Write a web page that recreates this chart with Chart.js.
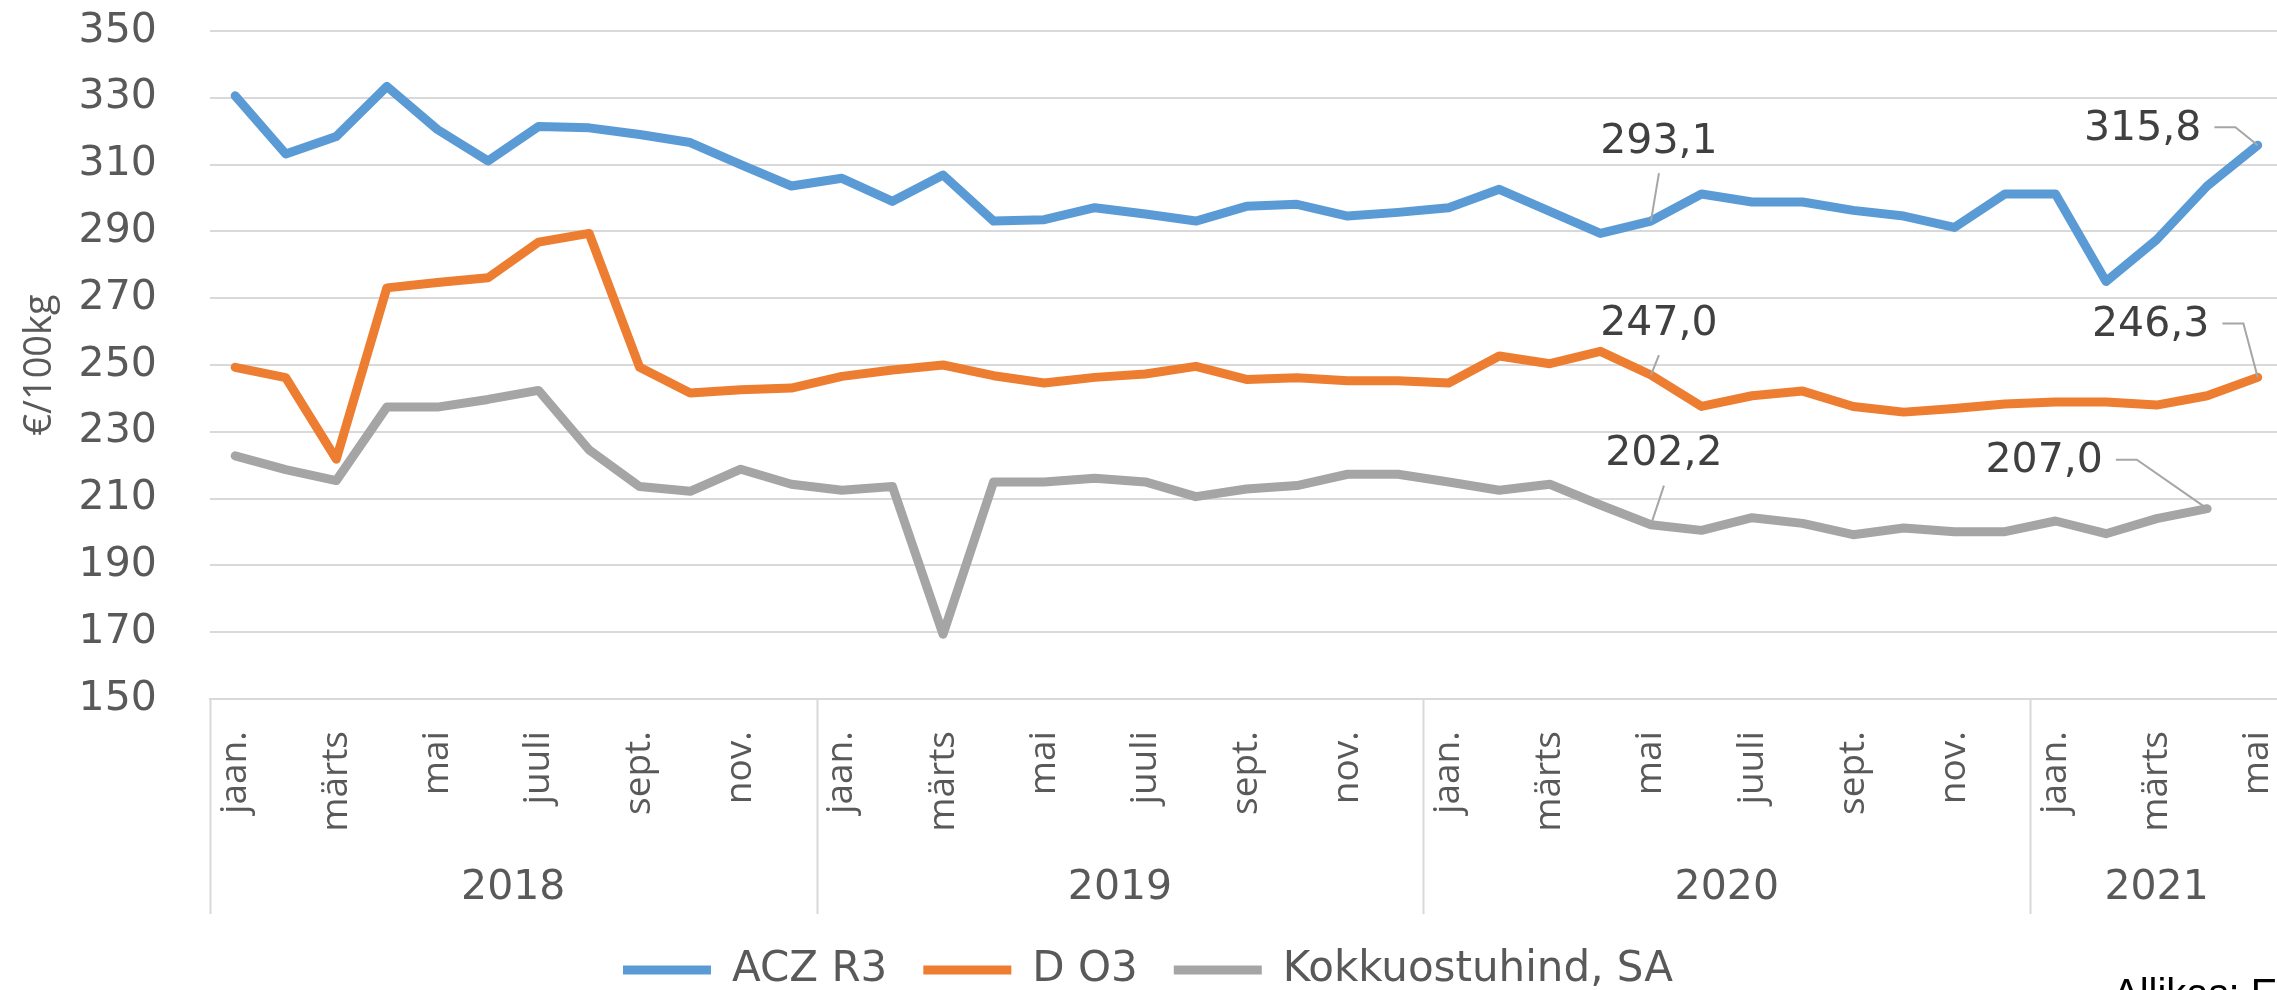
<!DOCTYPE html>
<html lang="et">
<head>
<meta charset="utf-8">
<title>Rümpade hinnad</title>
<script src="https://cdn.jsdelivr.net/npm/chart.js@4.4.1/dist/chart.umd.min.js"></script>
<style>
  html, body { margin: 0; padding: 0; background: #fff; overflow: hidden; }
  .wrap { position: relative; width: 2300px; height: 990px; }
  .allikas { position: absolute; left: 2113px; top: 973px; font: 40px "Liberation Sans", Arial, sans-serif; line-height: 1; color: #000; white-space: nowrap; }
</style>
</head>
<body>
<div class="wrap">
  <canvas id="chartHinnad"></canvas>
  <div class="allikas">Allikas: EK</div>
</div>
<script>
// kuud ja aastad (x-telg)
const kuud = ['jaan.', 'veebr.', 'märts', 'apr.', 'mai', 'juuni', 'juuli', 'aug.', 'sept.', 'okt.', 'nov.', 'dets.'];
const aastad = ['2018', '2019', '2020', '2021'];
const kuudAastas = [12, 12, 12, 5];

// hinnad, €/100kg
const aczR3 = [330.6, 313.2, 318.4, 333.4, 320.5, 311.1, 321.4, 321.0, 319.0, 316.6, 310.0, 303.6,
               305.9, 299.0, 306.9, 293.1, 293.5, 297.1, 295.2, 293.1, 297.5, 298.1, 294.6, 295.7,
               297.1, 302.6, 296.0, 289.4, 293.1, 301.2, 298.8, 298.8, 296.3, 294.6, 291.2, 301.2,
               301.2, 275.0, 287.5, 303.6, 315.8];
const dO3 = [249.3, 246.2, 221.8, 273.1, 274.7, 276.1, 286.8, 289.4, 249.3, 241.6, 242.6, 243.1,
             246.6, 248.5, 250.0, 246.8, 244.6, 246.3, 247.3, 249.6, 245.7, 246.2, 245.3, 245.3,
             244.6, 252.7, 250.4, 254.1, 247.0, 237.6, 240.8, 242.2, 237.6, 235.9, 237.0, 238.3,
             238.9, 238.9, 238.0, 240.8, 246.3];
const kokkuostuhind = [222.8, 218.7, 215.4, 237.4, 237.4, 239.7, 242.4, 224.6, 213.6, 212.2, 218.8, 214.3,
                       212.5, 213.6, 169.4, 215.0, 215.0, 216.1, 215.0, 210.6, 212.9, 213.9, 217.3, 217.3,
                       215.0, 212.5, 214.3, 208.1, 202.2, 200.5, 204.3, 202.6, 199.2, 201.2, 200.1, 200.1,
                       203.3, 199.5, 204.0, 207.0, null];

const yMin = 150, yMax = 350, ySamm = 20;

const kategooriad = aastad.flatMap((a, k) => kuud.slice(0, kuudAastas[k]));

// aasta sildi asukoht = oma kuude keskel
const aastaKeskkohad = [];
const aastaAlgused = [];
let algus = 0;
kuudAastas.forEach(n => {
    aastaAlgused.push(algus);
    aastaKeskkohad.push(algus + (n - 1) / 2);
    algus += n;
});

const HALL = '#595959';
const VORE = '#d9d9d9';

// väärtuste sildid koos juhtjoonega
const vaartuseSildid = {
    id: 'vaartuseSildid',
    afterDatasetsDraw(chart, args, opts) {
        const ctx = chart.ctx;
        ctx.save();
        ctx.font = '41px "DejaVu Sans"';
        ctx.textAlign = 'center';
        ctx.textBaseline = 'middle';
        opts.sildid.forEach(s => {
            const p = chart.getDatasetMeta(s.ds).data[s.i];
            const v = chart.data.datasets[s.ds].data[s.i];
            const tekst = v.toFixed(1).replace('.', ',');
            const tx = p.x + s.dx, ty = p.y + s.dy;
            ctx.strokeStyle = '#a6a6a6';
            ctx.lineWidth = 2;
            ctx.beginPath();
            if (s.joon === 'otse') {
                ctx.moveTo(tx, ty + 31);
                ctx.lineTo(p.x, p.y);
            } else {
                const w = ctx.measureText(tekst).width;
                ctx.moveTo(tx + w / 2 + 13, ty - 2);
                ctx.lineTo(tx + w / 2 + 34, ty - 2);
                ctx.lineTo(p.x, p.y);
            }
            ctx.stroke();
            ctx.fillStyle = '#404040';
            ctx.fillText(tekst, tx, ty);
        });
        ctx.restore();
    }
};

// aastate vahelised püstjooned x-telje all
const aastaEraldajad = {
    id: 'aastaEraldajad',
    afterDraw(chart, args, opts) {
        const sk = chart.scales.aasta;
        const ctx = chart.ctx;
        const y0 = chart.chartArea.bottom;
        ctx.save();
        ctx.strokeStyle = VORE;
        ctx.lineWidth = 2;
        aastaAlgused.concat([kategooriad.length]).forEach(a => {
            const x = Math.round(sk.getPixelForValue(a - 0.5)) + 0.5;
            ctx.beginPath();
            ctx.moveTo(x, y0);
            ctx.lineTo(x, y0 + opts.pikkus);
            ctx.stroke();
        });
        ctx.restore();
    }
};

const joon = (label, data, color) => ({
    label, data,
    borderColor: color,
    backgroundColor: color,
    borderWidth: 9,
    borderJoinStyle: 'round',
    borderCapStyle: 'round',
    pointRadius: 0,
    tension: 0,
});

new Chart(document.getElementById('chartHinnad'), {
    type: 'line',
    data: {
        labels: kategooriad,
        datasets: [
            joon('ACZ R3', aczR3, '#5b9bd5'),
            joon('D O3', dO3, '#ed7d31'),
            joon('Kokkuostuhind, SA', kokkuostuhind, '#a5a5a5'),
        ],
    },
    plugins: [vaartuseSildid, aastaEraldajad],
    options: {
        responsive: true,
        maintainAspectRatio: false,
        animation: false,
        layout: { padding: { top: 31, right: 17, bottom: -11, left: 13 } },
        plugins: {
            tooltip: { enabled: false },
            legend: {
                position: 'bottom',
                labels: {
                    usePointStyle: true,
                    pointStyle: 'line',
                    pointStyleWidth: 88,
                    padding: 36,
                    color: HALL,
                    font: { family: 'DejaVu Sans', size: 42 },
                },
            },
            vaartuseSildid: {
                sildid: [
                    { ds: 0, i: 28, dx: 8, dy: -79, joon: 'otse' },
                    { ds: 1, i: 28, dx: 8, dy: -51, joon: 'otse' },
                    { ds: 2, i: 28, dx: 13, dy: -70, joon: 'otse' },
                    { ds: 0, i: 40, dx: -115, dy: -16, joon: 'nurk' },
                    { ds: 1, i: 40, dx: -107, dy: -52, joon: 'nurk' },
                    { ds: 2, i: 39, dx: -163, dy: -47, joon: 'nurk' },
                ],
            },
            aastaEraldajad: { pikkus: 215 },
        },
        scales: {
            x: {
                type: 'category',
                offset: true,
                grid: { display: true, drawOnChartArea: false, drawTicks: false },
                border: { display: true, color: VORE, width: 2 },
                afterFit: axis => { axis.paddingLeft = 0; axis.paddingRight = 0; },
                ticks: {
                    autoSkip: false,
                    maxRotation: 90,
                    minRotation: 90,
                    padding: 32,
                    color: HALL,
                    font: { family: 'Open Sans', size: 37 },
                    callback: function (value, index) {
                        return index % 2 === 0 ? this.getLabelForValue(value) : '';
                    },
                },
            },
            aasta: {
                type: 'linear',
                position: 'bottom',
                min: -0.5,
                max: kategooriad.length - 0.5,
                grid: { display: false, drawTicks: false },
                border: { display: false },
                afterFit: axis => { axis.paddingLeft = 0; axis.paddingRight = 0; },
                afterBuildTicks: axis => {
                    axis.ticks = aastaKeskkohad.map(v => ({ value: v }));
                },
                ticks: {
                    padding: 0,
                    color: HALL,
                    font: { family: 'DejaVu Sans', size: 41 },
                    callback: value => aastad[aastaKeskkohad.indexOf(value)],
                },
            },
            y: {
                min: yMin,
                max: yMax,
                grid: { color: VORE, lineWidth: 2, drawTicks: false },
                border: { display: false },
                afterFit: axis => { axis.paddingTop = 0; axis.paddingBottom = 0; },
                ticks: {
                    stepSize: ySamm,
                    padding: 53,
                    color: HALL,
                    font: { family: 'DejaVu Sans', size: 41 },
                },
                title: {
                    display: true,
                    text: '€/100kg',
                    color: HALL,
                    font: { family: 'Open Sans', size: 38 },
                    padding: { top: 4, bottom: -37 },
                },
            },
        },
    },
});
</script>
</body>
</html>
